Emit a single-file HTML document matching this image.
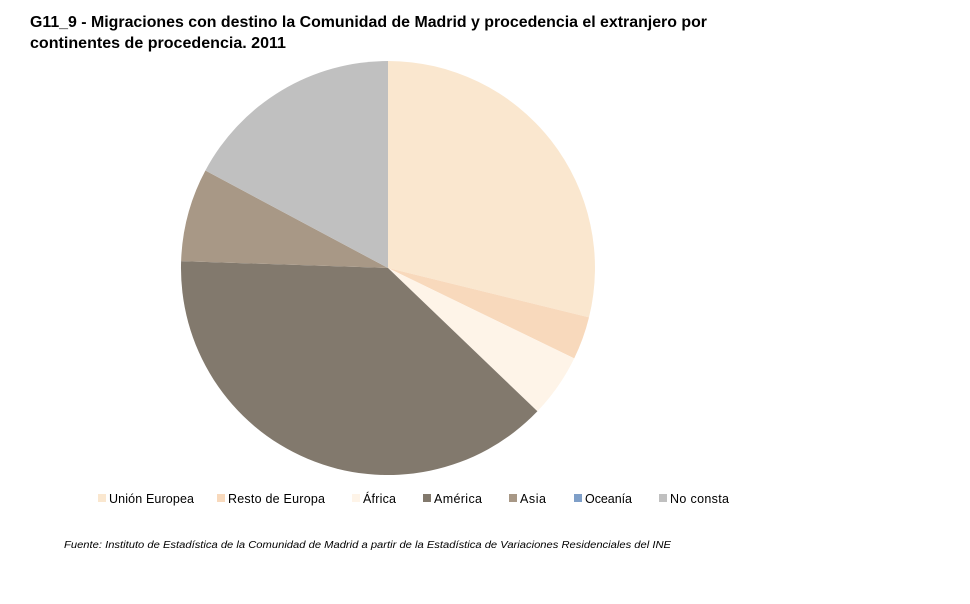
<!DOCTYPE html>
<html><head><meta charset="utf-8"><style>
body{margin:0;background:#fff;}
</style></head><body>
<svg width="970" height="604" xmlns="http://www.w3.org/2000/svg" style="display:block">
<rect width="970" height="604" fill="#fff"/>
<text x="30" y="27" font-family="Liberation Sans, sans-serif" font-size="15.5" font-weight="bold" fill="#000" textLength="677" lengthAdjust="spacingAndGlyphs">G11_9 - Migraciones con destino la Comunidad de Madrid y procedencia el extranjero por</text>
<text x="30" y="48" font-family="Liberation Sans, sans-serif" font-size="15.5" font-weight="bold" fill="#000" textLength="256" lengthAdjust="spacingAndGlyphs">continentes de procedencia. 2011</text>
<g transform="translate(388,268)">
<path d="M0,0 L0,-207 A207,207 0 0 1 201,49.4 Z" fill="#FAE7CF"/>
<path d="M0,0 L201,49.4 A207,207 0 0 1 186.2,90.4 Z" fill="#F8D9BC"/>
<path d="M0,0 L186.2,90.4 A207,207 0 0 1 149.4,143.3 Z" fill="#FEF4E8"/>
<path d="M0,0 L149.4,143.3 A207,207 0 0 1 -206.9,-6.9 Z" fill="#82796D"/>
<path d="M0,0 L-206.9,-6.9 A207,207 0 0 1 -182.6,-97.5 Z" fill="#A89886"/>
<path d="M0,0 L-182.6,-97.5 A207,207 0 0 1 0,-207 Z" fill="#C0C0C0"/>
</g>
<g font-family="Liberation Sans, sans-serif" font-size="12.5" fill="#000" lengthAdjust="spacingAndGlyphs">
<rect x="98" y="494" width="8" height="8" fill="#FAE7CF"/><text x="109" y="503" textLength="85">Unión Europea</text>
<rect x="217" y="494" width="8" height="8" fill="#F8D9BC"/><text x="228" y="503" textLength="97">Resto de Europa</text>
<rect x="352" y="494" width="8" height="8" fill="#FEF4E8"/><text x="363" y="503" textLength="33">África</text>
<rect x="423" y="494" width="8" height="8" fill="#82796D"/><text x="434" y="503" textLength="48">América</text>
<rect x="509" y="494" width="8" height="8" fill="#A89886"/><text x="520" y="503" textLength="26">Asia</text>
<rect x="574" y="494" width="8" height="8" fill="#7F9FC8"/><text x="585" y="503" textLength="47">Oceanía</text>
<rect x="659" y="494" width="8" height="8" fill="#C0C0C0"/><text x="670" y="503" textLength="59">No consta</text>
</g>
<text x="64" y="548" font-family="Liberation Sans, sans-serif" font-size="10" font-style="italic" fill="#000" textLength="607" lengthAdjust="spacingAndGlyphs">Fuente: Instituto de Estadística de la Comunidad de Madrid a partir de la Estadística de Variaciones Residenciales del  INE</text>
</svg>
</body></html>
